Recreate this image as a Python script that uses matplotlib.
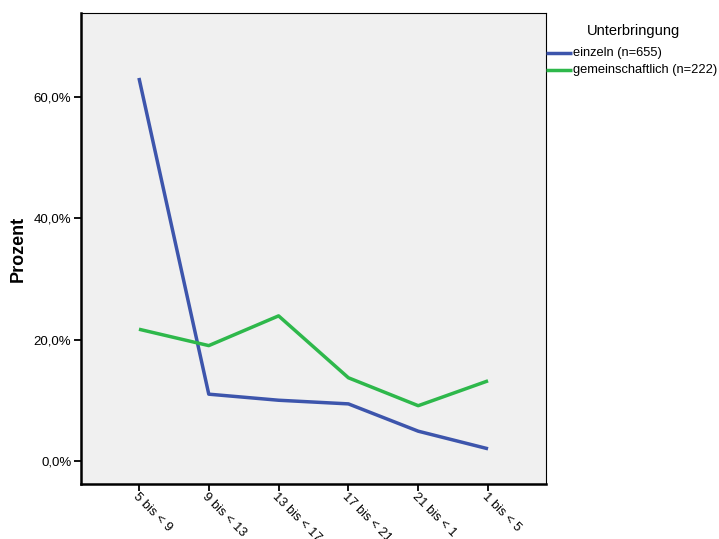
import matplotlib
matplotlib.use("Agg")
import matplotlib.pyplot as plt
from matplotlib.lines import Line2D

categories = ["5 bis < 9", "9 bis < 13", "13 bis < 17", "17 bis < 21", "21 bis < 1", "1 bis < 5"]
einzeln = [63.1, 11.0, 10.0, 9.4, 4.9, 2.0]
gemeinschaftlich = [21.7, 19.0, 23.9, 13.7, 9.1, 13.2]
series_labels = ["einzeln (n=655)", "gemeinschaftlich (n=222)"]
legend_title = "Unterbringung"
yticks = [0, 20, 40, 60]
ytick_labels = ["0,0%", "20,0%", "40,0%", "60,0%"]

plt.rcParams['font.family'] = ['Liberation Sans', 'DejaVu Sans']

fig = plt.figure(figsize=(7.19, 5.39), dpi=100)
W, H = 719, 539
left, right, top, bottom = 81, 546, 13, 484
ax = fig.add_axes([left / W, 1 - bottom / H, (right - left) / W, (bottom - top) / H])
ax.set_facecolor('#F0F0F0')

x = list(range(len(categories)))
blue = '#3D55AC'
green = '#2EB84B'
colors = [blue, green]
ax.plot(x, einzeln, color=blue, lw=2.5, solid_capstyle='butt')
ax.plot(x, gemeinschaftlich, color=green, lw=2.5, solid_capstyle='butt')

ax.set_xlim(-0.83, 5.83)
ax.set_ylim(-3.8, 73.8)
ax.set_yticks(yticks)
ax.set_yticklabels(ytick_labels, fontsize=9.5)
ax.set_xticks(x)
ax.set_xticklabels(categories, fontsize=9.3, rotation=-45, ha='left', va='top', rotation_mode='anchor')
ax.tick_params(axis='both', length=5, width=1.3, color='black', pad=2)
ax.tick_params(axis='x', pad=0)

for s in ['top', 'right']:
    ax.spines[s].set_linewidth(0.8)
for s in ['left', 'bottom']:
    ax.spines[s].set_linewidth(1.8)

ax.set_ylabel('Prozent', fontsize=13, fontweight='bold', labelpad=5)

# legend drawn manually in figure pixel coordinates
fig.text(633 / W, 1 - 31 / H, legend_title, fontsize=10.5, ha='center', va='center')
for i, (lab, c) in enumerate(zip(series_labels, colors)):
    yy = 1 - (53 + 16.5 * i) / H
    fig.add_artist(Line2D([546 / W, 572 / W], [yy, yy], color=c, lw=2.5,
                          transform=fig.transFigure, solid_capstyle='butt'))
    fig.text(573 / W, yy, lab, fontsize=9.3, ha='left', va='center')

fig.savefig('out.png', dpi=100)
